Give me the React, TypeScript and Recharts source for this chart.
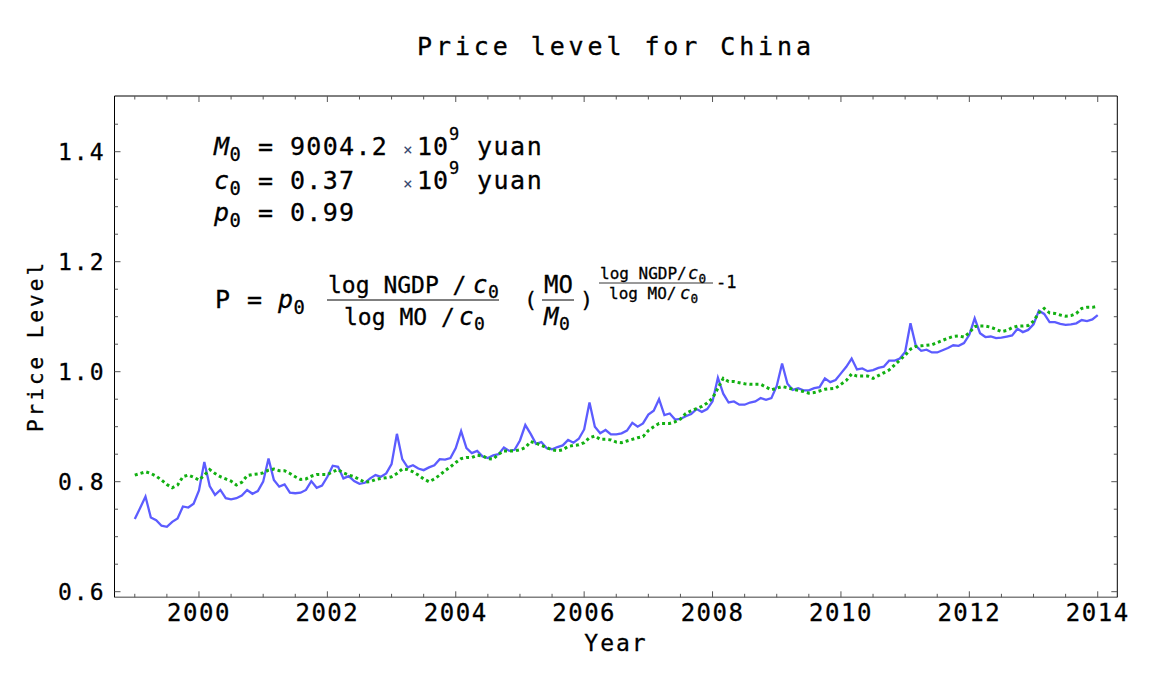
import React from 'react';
import { LineChart, Line, XAxis, YAxis } from 'recharts';

// monthly observations, Jan 1999 .. Jan 2014
const START_YEAR = 1999;

// observed price level (solid blue)
const PRICE_DATA = [
  0.732, 0.752, 0.773, 0.735, 0.730, 0.720, 0.718, 0.727, 0.733, 0.755, 0.753, 0.760,
  0.784, 0.836, 0.792, 0.776, 0.785, 0.770, 0.768, 0.770, 0.775, 0.785, 0.778, 0.783,
  0.800, 0.842, 0.803, 0.791, 0.795, 0.780, 0.779, 0.780, 0.785, 0.801, 0.789, 0.793,
  0.809, 0.829, 0.827, 0.806, 0.810, 0.801, 0.796, 0.798, 0.806,
  0.812, 0.809, 0.815, 0.832, 0.887, 0.841, 0.826, 0.830, 0.824, 0.821, 0.826, 0.830,
  0.841, 0.840, 0.843, 0.861, 0.892, 0.861, 0.852, 0.856, 0.846, 0.843, 0.848, 0.850,
  0.862, 0.856, 0.858, 0.875, 0.903, 0.887, 0.869, 0.872, 0.861, 0.859, 0.863, 0.866,
  0.876, 0.871, 0.878, 0.895, 0.944, 0.900, 0.888, 0.894, 0.886, 0.886,
  0.888, 0.893, 0.907, 0.900, 0.906, 0.922, 0.929, 0.950, 0.921, 0.924, 0.913, 0.914,
  0.919, 0.923, 0.932, 0.927, 0.932, 0.946, 0.989, 0.960, 0.944, 0.946, 0.940, 0.940,
  0.944, 0.946, 0.952, 0.949, 0.952, 0.974, 1.015, 0.978, 0.967, 0.970, 0.966, 0.966,
  0.970, 0.972, 0.988, 0.981, 0.985, 0.997, 1.009, 1.024, 1.004,
  1.006, 1.001, 1.003, 1.007, 1.009, 1.020, 1.020, 1.024, 1.036, 1.088, 1.047, 1.038,
  1.040, 1.035, 1.035, 1.039, 1.043, 1.048, 1.047, 1.052, 1.067, 1.097, 1.070, 1.063,
  1.064, 1.061, 1.062, 1.064, 1.066, 1.078, 1.072, 1.076, 1.086, 1.111, 1.105, 1.090,
  1.090, 1.087, 1.085, 1.086, 1.088, 1.094, 1.092, 1.095, 1.103,
];

// model price level (dotted green)
const MODEL_DATA = [
  0.812, 0.815, 0.818, 0.815, 0.810, 0.803, 0.795, 0.789, 0.794, 0.809, 0.812, 0.808,
  0.803, 0.812, 0.822, 0.815, 0.809, 0.805, 0.801, 0.794, 0.799, 0.811, 0.813, 0.814,
  0.816, 0.821, 0.823, 0.820, 0.820, 0.815, 0.809, 0.804, 0.805, 0.810, 0.813, 0.813,
  0.813, 0.818, 0.822, 0.816, 0.812, 0.809, 0.804, 0.799, 0.800,
  0.804, 0.806, 0.807, 0.809, 0.815, 0.823, 0.822, 0.818, 0.812, 0.805, 0.800, 0.805,
  0.812, 0.820, 0.827, 0.835, 0.842, 0.844, 0.844, 0.848, 0.847, 0.842, 0.841, 0.850,
  0.856, 0.856, 0.856, 0.858, 0.862, 0.873, 0.870, 0.866, 0.862, 0.858, 0.856, 0.858,
  0.864, 0.866, 0.867, 0.871, 0.880, 0.883, 0.877, 0.877, 0.876, 0.872,
  0.871, 0.874, 0.877, 0.880, 0.882, 0.893, 0.900, 0.906, 0.906, 0.906, 0.909, 0.914,
  0.924, 0.929, 0.933, 0.937, 0.943, 0.952, 0.970, 0.988, 0.982, 0.982, 0.980, 0.978,
  0.977, 0.977, 0.977, 0.972, 0.967, 0.970, 0.973, 0.971, 0.968, 0.966, 0.964, 0.961,
  0.962, 0.965, 0.968, 0.969, 0.970, 0.977, 0.984, 0.996, 0.992,
  0.992, 0.992, 0.988, 0.993, 0.998, 1.003, 1.012, 1.021, 1.030, 1.041, 1.046, 1.047,
  1.048, 1.049, 1.053, 1.057, 1.061, 1.064, 1.065, 1.063, 1.071, 1.082, 1.083, 1.083,
  1.081, 1.077, 1.073, 1.075, 1.080, 1.083, 1.083, 1.084, 1.092, 1.107, 1.115, 1.107,
  1.106, 1.103, 1.101, 1.102, 1.106, 1.115, 1.117, 1.117, 1.119,
];

const X_TICKS = [
  1999, 1999.5, 2000, 2000.5, 2001, 2001.5, 2002, 2002.5, 2003, 2003.5, 2004, 2004.5,
  2005, 2005.5, 2006, 2006.5, 2007, 2007.5, 2008, 2008.5, 2009, 2009.5, 2010, 2010.5,
  2011, 2011.5, 2012, 2012.5, 2013, 2013.5, 2014,
];
const Y_TICKS = [
  0.6, 0.65, 0.7, 0.75, 0.8, 0.85, 0.9, 0.95, 1.0, 1.05, 1.1, 1.15, 1.2, 1.25, 1.3,
  1.35, 1.4, 1.45,
];

const W = 1152;
const H = 687;
const MONO = "'DejaVu Sans Mono', monospace";
const X_GAP = 24;
const Y_GAP = 9;
const X_DOMAIN = [1998.684, 2014.305];
const Y_DOMAIN = [0.5898, 1.5013];

const chartData = PRICE_DATA.map((p, i) => ({
  t: START_YEAR + i / 12,
  price: p,
  model: MODEL_DATA[i],
}));

const isMajorX = (v: number) => Math.abs(v - Math.round(v)) < 1e-6 && Math.round(v) % 2 === 0;
const isMajorY = (v: number) => Math.round(v * 100) % 20 === 0;

const BottomTick = ({ x, y, payload }: any) => {
  const v = payload.value;
  const major = isMajorX(v);
  const ay = y - X_GAP;
  return (
    <g>
      <line x1={x} x2={x} y1={ay} y2={ay - (major ? 6 : 3.5)} stroke="#555" />
      {major && (
        <text x={x} y={y} textAnchor="middle" fontFamily={MONO} fontSize={24} letterSpacing={1.5}
          fill="#000" stroke="#000" strokeWidth={0.3}>
          {v}
        </text>
      )}
    </g>
  );
};

const TopTick = ({ x, y, payload }: any) => {
  const major = isMajorX(payload.value);
  return <line x1={x} x2={x} y1={y} y2={y + (major ? 6 : 3.5)} stroke="#555" />;
};

const LeftTick = ({ x, y, payload }: any) => {
  const v = payload.value;
  const major = isMajorY(v);
  const ax = x + Y_GAP;
  return (
    <g>
      <line x1={ax} x2={ax + (major ? 6 : 3.5)} y1={y} y2={y} stroke="#555" />
      {major && (
        <text x={x} y={y} dy="0.36em" textAnchor="end" fontFamily={MONO} fontSize={23} letterSpacing={2}
          fill="#000" stroke="#000" strokeWidth={0.3}>
          {v.toFixed(1)}
        </text>
      )}
    </g>
  );
};

const RightTick = ({ x, y, payload }: any) => {
  const major = isMajorY(payload.value);
  return <line x1={x} x2={x - (major ? 6 : 3.5)} y1={y} y2={y} stroke="#555" />;
};

const txt = { fontFamily: MONO, fill: '#000', stroke: '#000', strokeWidth: 0.3 };

const Sub = ({ x, y, base, sub, italic = true, size = 25 }: any) => (
  <g>
    <text x={x} y={y} fontSize={size} fontStyle={italic ? 'italic' : 'normal'} {...txt}>{base}</text>
    <text x={x + size * 0.62} y={y + size * 0.22} fontSize={size * 0.75} {...txt}>{sub}</text>
  </g>
);

const Annotations = () => (
  <svg width={W} height={H} style={{ position: 'absolute', left: 0, top: 0, pointerEvents: 'none' }}>
    <text x={616} y={55} textAnchor="middle" fontSize={25} letterSpacing={3.9} {...txt}>
      Price level for China
    </text>
    <text x={616} y={651} textAnchor="middle" fontSize={23} letterSpacing={2} {...txt}>
      Year
    </text>
    <text x={43} y={346} transform="rotate(-90 43 346)" textAnchor="middle" fontSize={21} letterSpacing={3} {...txt}>
      Price Level
    </text>

    {/* parameters */}
    <Sub x={214} y={155} base="M" sub="0" />
    <text x={258} y={155} fontSize={25} {...txt}>=</text>
    <text x={290} y={155} fontSize={25} letterSpacing={1.3} {...txt}>9004.2</text>
    <text x={403} y={155} fontSize={16} fill="#3a4a70" fontFamily={MONO}>×</text>
    <text x={417} y={155} fontSize={25} letterSpacing={1} {...txt}>10</text>
    <text x={449} y={140} fontSize={17} {...txt}>9</text>
    <text x={477} y={155} fontSize={25} letterSpacing={1.5} {...txt}>yuan</text>

    <Sub x={214} y={189} base="c" sub="0" />
    <text x={258} y={189} fontSize={25} {...txt}>=</text>
    <text x={290} y={189} fontSize={25} letterSpacing={1.3} {...txt}>0.37</text>
    <text x={403} y={189} fontSize={16} fill="#3a4a70" fontFamily={MONO}>×</text>
    <text x={417} y={189} fontSize={25} letterSpacing={1} {...txt}>10</text>
    <text x={449} y={174} fontSize={17} {...txt}>9</text>
    <text x={477} y={189} fontSize={25} letterSpacing={1.5} {...txt}>yuan</text>

    <Sub x={214} y={221} base="p" sub="0" />
    <text x={258} y={221} fontSize={25} {...txt}>=</text>
    <text x={290} y={221} fontSize={25} letterSpacing={1.3} {...txt}>0.99</text>

    {/* formula */}
    <text x={215} y={308} fontSize={25} {...txt}>P</text>
    <text x={247} y={308} fontSize={25} {...txt}>=</text>
    <Sub x={278} y={308} base="p" sub="0" />
    <text x={328} y={293} fontSize={23} {...txt}>log NGDP /</text>
    <Sub x={473} y={293} base="c" sub="0" size={24} />
    <line x1={327} x2={499} y1={300} y2={300} stroke="#000" strokeWidth={1} />
    <text x={344} y={325} fontSize={23} {...txt}>log MO /</text>
    <Sub x={459} y={325} base="c" sub="0" size={24} />

    <text x={524} y={307} fontSize={22} {...txt}>(</text>
    <text x={544} y={293} fontSize={24} {...txt}>MO</text>
    <line x1={542} x2={574} y1={300} y2={300} stroke="#000" strokeWidth={1} />
    <Sub x={544} y={325} base="M" sub="0" size={24} />
    <text x={580} y={307} fontSize={22} {...txt}>)</text>

    <text x={600} y={279} fontSize={16} {...txt}>log NGDP/</text>
    <Sub x={688} y={279} base="c" sub="0" size={17} />
    <line x1={599} x2={713} y1={283} y2={283} stroke="#000" strokeWidth={0.8} />
    <text x={609} y={299} fontSize={16} {...txt}>log MO/</text>
    <Sub x={680} y={299} base="c" sub="0" size={17} />
    <text x={716} y={288} fontSize={17} {...txt}>-1</text>
  </svg>
);

export default function App() {
  return (
    <div style={{ position: 'absolute', left: 0, top: 0, width: W, height: H, background: '#fff' }}>
      <LineChart
        width={W}
        height={H}
        data={chartData}
        margin={{ top: 95, right: 33.7, bottom: 49.7, left: 54.5 }}
      >
        <XAxis
          dataKey="t"
          type="number"
          domain={X_DOMAIN}
          allowDataOverflow
          ticks={X_TICKS}
          interval={0}
          height={40}
          tickSize={0}
          tickMargin={X_GAP}
          tickLine={false}
          axisLine={{ stroke: '#808080', strokeWidth: 1.5 }}
          tick={<BottomTick />}
        />
        <XAxis
          xAxisId="top"
          orientation="top"
          dataKey="t"
          type="number"
          domain={X_DOMAIN}
          allowDataOverflow
          ticks={X_TICKS}
          interval={0}
          height={1}
          tickSize={0}
          tickMargin={0}
          tickLine={false}
          axisLine={{ stroke: '#000', strokeWidth: 1 }}
          tick={<TopTick />}
        />
        <YAxis
          type="number"
          domain={Y_DOMAIN}
          allowDataOverflow
          ticks={Y_TICKS}
          interval={0}
          width={60}
          tickSize={0}
          tickMargin={Y_GAP}
          tickLine={false}
          axisLine={{ stroke: '#000', strokeWidth: 1 }}
          tick={<LeftTick />}
        />
        <YAxis
          yAxisId="right"
          orientation="right"
          type="number"
          domain={Y_DOMAIN}
          allowDataOverflow
          ticks={Y_TICKS}
          interval={0}
          width={1}
          tickSize={0}
          tickMargin={0}
          tickLine={false}
          axisLine={{ stroke: '#000', strokeWidth: 1 }}
          tick={<RightTick />}
        />
        <Line
          dataKey="price"
          type="linear"
          stroke="#5c5cff"
          strokeWidth={2.3}
          dot={false}
          isAnimationActive={false}
        />
        <Line
          dataKey="model"
          type="linear"
          stroke="#12b012"
          strokeWidth={3}
          strokeDasharray="3 3"
          dot={false}
          isAnimationActive={false}
        />
      </LineChart>
      <Annotations />
    </div>
  );
}
